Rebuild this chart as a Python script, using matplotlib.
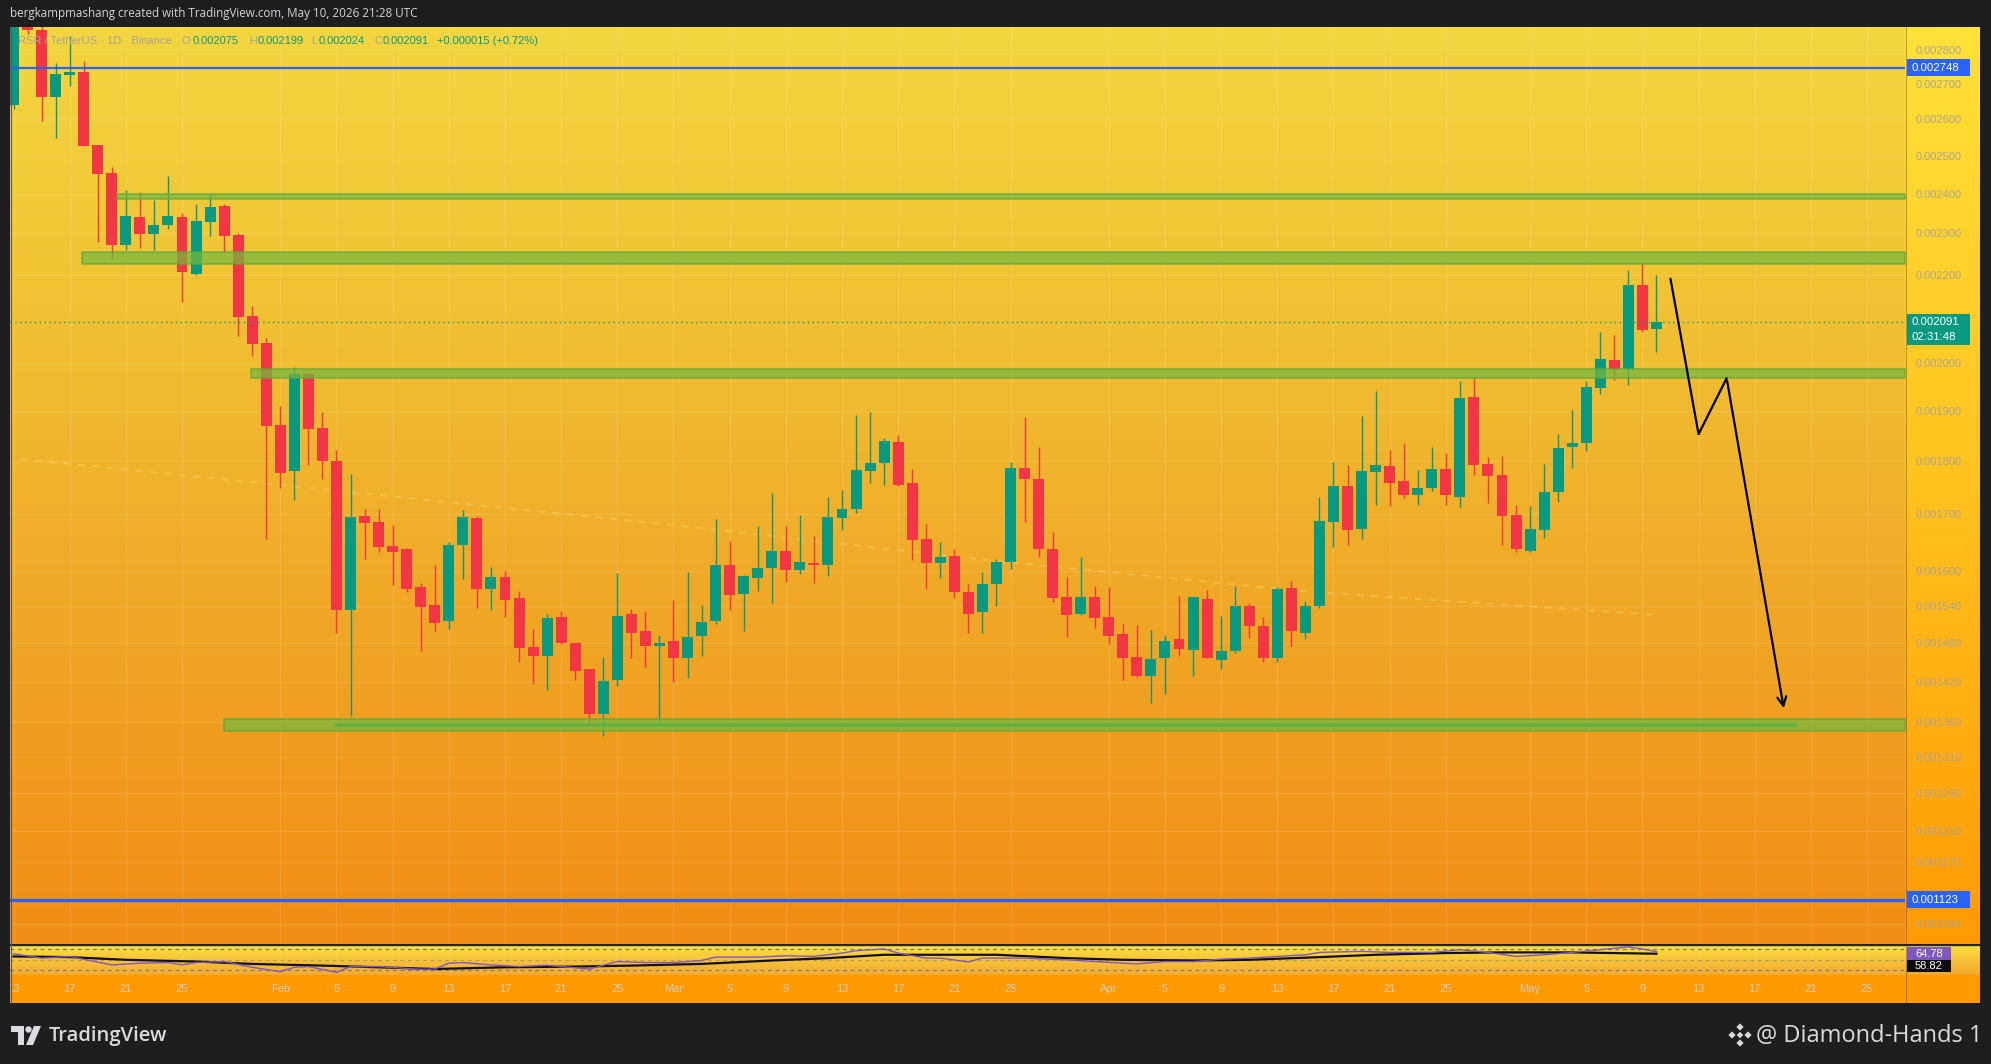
import numpy as np
import pandas as pd
import matplotlib
matplotlib.use("Agg")
import matplotlib.pyplot as plt
from matplotlib.patches import Rectangle, Polygon
from matplotlib.colors import to_rgb
from matplotlib.ticker import NullLocator, NullFormatter

W, H = 1991, 1064

# ---- daily candles RSR/USDT, 13 Jan .. 10 May 2026 (prices in 1e-6 USDT) ----
START = pd.Timestamp("2026-01-13")
opens = [2640, 2920, 2862, 2663, 2728, 2735, 2529, 2454, 2271, 2340, 2299, 2321, 2340, 2202, 2328, 2369, 2296, 2105, 2044, 1871,
         1781, 1977, 1866, 1801, 1534, 1697, 1686, 1643, 1638, 1572, 1542, 1515, 1644, 1693, 1568, 1589, 1554, 1474, 1460, 1523,
         1480, 1440, 1372, 1423, 1527, 1500, 1476, 1484, 1457, 1492, 1516, 1610, 1560, 1588, 1605, 1634, 1602, 1613, 1609, 1694,
         1709, 1782, 1797, 1838, 1759, 1655, 1614, 1626, 1563, 1530, 1578, 1615, 1787, 1765, 1638, 1555, 1528, 1555, 1522, 1495,
         1458, 1429, 1457, 1486, 1470, 1552, 1454, 1468, 1540, 1508, 1457, 1571, 1497, 1540, 1686, 1753, 1674, 1780, 1791, 1762,
         1736, 1748, 1785, 1732, 1929, 1795, 1774, 1698, 1635, 1672, 1742, 1827, 1835, 1948, 2007, 1987, 2175, 2075]
highs = [2960, 2950, 2900, 2762, 2843, 2768, 2530, 2470, 2409, 2403, 2384, 2446, 2350, 2373, 2399, 2373, 2300, 2127, 2055, 1909,
         1992, 1980, 1898, 1822, 1776, 1710, 1710, 1681, 1640, 1579, 1610, 1650, 1708, 1697, 1606, 1599, 1566, 1503, 1527, 1532,
         1481, 1440, 1458, 1596, 1535, 1532, 1493, 1550, 1597, 1542, 1691, 1652, 1593, 1679, 1739, 1679, 1699, 1661, 1732, 1745,
         1892, 1898, 1845, 1851, 1785, 1682, 1650, 1638, 1578, 1597, 1620, 1798, 1888, 1827, 1668, 1590, 1624, 1574, 1572, 1511,
         1510, 1501, 1493, 1557, 1556, 1567, 1524, 1574, 1545, 1522, 1572, 1583, 1548, 1732, 1799, 1793, 1890, 1941, 1822, 1836,
         1783, 1827, 1816, 1962, 1968, 1808, 1810, 1718, 1715, 1795, 1853, 1902, 1962, 2068, 2062, 2211, 2228, 2199]
lows = [2629, 2850, 2595, 2549, 2694, 2525, 2278, 2238, 2260, 2263, 2260, 2311, 2136, 2200, 2293, 2254, 2059, 2016, 1656, 1748,
        1727, 1793, 1765, 1497, 1368, 1621, 1633, 1576, 1563, 1468, 1499, 1503, 1586, 1537, 1534, 1523, 1451, 1416, 1408, 1479,
        1422, 1356, 1340, 1413, 1456, 1443, 1360, 1420, 1425, 1459, 1511, 1534, 1500, 1566, 1546, 1581, 1595, 1579, 1591, 1671,
        1702, 1759, 1755, 1753, 1619, 1569, 1588, 1553, 1497, 1497, 1541, 1603, 1686, 1623, 1547, 1490, 1526, 1505, 1478, 1423,
        1427, 1388, 1402, 1459, 1428, 1456, 1439, 1464, 1489, 1451, 1451, 1475, 1486, 1537, 1642, 1644, 1656, 1718, 1716, 1730,
        1718, 1744, 1718, 1714, 1774, 1721, 1644, 1633, 1633, 1658, 1722, 1787, 1820, 1934, 1965, 1954, 2069, 2024]
closes = [2920, 2862, 2663, 2730, 2735, 2527, 2452, 2271, 2343, 2299, 2320, 2343, 2205, 2330, 2366, 2293, 2102, 2042, 1869, 1778,
          1977, 1864, 1801, 1534, 1695, 1685, 1642, 1633, 1569, 1539, 1513, 1645, 1695, 1568, 1589, 1551, 1473, 1460, 1521, 1480,
          1437, 1371, 1421, 1524, 1497, 1476, 1480, 1457, 1490, 1514, 1610, 1559, 1591, 1605, 1634, 1602, 1615, 1609, 1695, 1710,
          1783, 1796, 1840, 1755, 1654, 1614, 1624, 1563, 1528, 1578, 1615, 1787, 1765, 1637, 1554, 1526, 1555, 1521, 1492, 1457,
          1429, 1455, 1483, 1471, 1555, 1457, 1468, 1540, 1508, 1457, 1569, 1499, 1540, 1688, 1753, 1672, 1781, 1793, 1759, 1736,
          1749, 1785, 1736, 1927, 1793, 1772, 1697, 1637, 1674, 1741, 1826, 1836, 1949, 2009, 1988, 2175, 2073, 2091]

# drawn levels (price, 1e-6 USDT)
blue_levels = [2748, 1123]
zones = [  # (start candle, low, high)
    (7.4, 2387, 2398),
    (4.9, 2225, 2254),
    (16.9, 1969, 1988),
    (15.0, 1347, 1364),
]
inner_zone = (22.9, 127.0, 1352, 1358)
last_price = 2091

# faint moving average
ema_x = [0.5, 23.3, 46.8, 69.5, 92.3, 117]
ema_p = [1804, 1743, 1681, 1618, 1564, 1526]

# hand-drawn projection arrow
arrow_x = [118.0, 120.0, 122.0, 126.1]
arrow_p = [2190, 1853, 1968, 1376]

# RSI pane
rsi_x = [0, 2, 4, 7, 9, 11, 12, 13, 15, 17, 19, 20, 21, 23, 24, 26, 29, 30, 31, 32, 34, 36, 38, 41, 43, 45, 47, 49, 50, 53,
         55, 57, 59, 60, 62, 63, 65, 66, 68, 69, 72, 75, 77, 80, 82, 84, 86, 88, 90, 92, 93, 96, 98, 101, 103, 105, 107, 109,
         111, 113, 115, 116, 117]
rsi_v = [61.0, 52.6, 55.8, 39.7, 42.9, 44.2, 39.7, 44.2, 46.1, 35.2, 26.8, 35.2, 36.5, 25.5, 36.5, 36.5, 31.3, 31.9, 42.9,
         44.2, 39.7, 36.5, 39.0, 31.9, 46.1, 44.2, 44.2, 48.1, 54.5, 54.5, 57.1, 55.8, 62.3, 66.8, 70.0, 62.3, 52.6, 52.6,
         45.5, 52.6, 52.6, 49.4, 46.1, 41.6, 46.1, 46.1, 50.6, 52.6, 55.8, 59.0, 63.5, 65.5, 63.5, 63.5, 68.7, 63.5, 55.8,
         59.0, 63.5, 68.7, 73.9, 70.0, 64.78]
ma_x = [0, 4, 8, 13, 17, 22, 26, 30, 35, 40, 44, 49, 54, 58, 62, 67, 70, 75, 79, 84, 88, 93, 97, 102, 106, 111, 117]
ma_v = [55.8, 54.5, 49.4, 46.1, 41.6, 38.4, 35.2, 31.9, 35.2, 36.5, 38.4, 41.6, 48.1, 52.6, 59.0, 59.0, 59.0, 52.6, 49.4,
        48.1, 49.4, 54.5, 59.0, 62.3, 63.5, 63.5, 61.0]
ma_last = 58.82

price_ticks = [2800, 2700, 2600, 2500, 2400, 2300, 2200, 2000, 1900, 1800, 1700, 1600, 1540, 1480, 1420, 1360,
               1310, 1260, 1210, 1170, 1094]
tick_days = ["2026-01-13", "2026-01-17", "2026-01-21", "2026-01-25", "2026-02-01", "2026-02-05", "2026-02-09",
             "2026-02-13", "2026-02-17", "2026-02-21", "2026-02-25", "2026-03-01", "2026-03-05", "2026-03-09",
             "2026-03-13", "2026-03-17", "2026-03-21", "2026-03-25", "2026-04-01", "2026-04-05", "2026-04-09",
             "2026-04-13", "2026-04-17", "2026-04-21", "2026-04-25", "2026-05-01", "2026-05-05", "2026-05-09",
             "2026-05-13", "2026-05-17", "2026-05-21", "2026-05-25"]

SC = 1e-6
o = np.array(opens) * SC
h = np.array(highs) * SC
l = np.array(lows) * SC
c = np.array(closes) * SC
idx = np.arange(len(o))

GREEN = "#089981"
RED = "#f23645"
BLUE = "#2962ff"
AXTXT = "#aaa596"
TIMETXT = "#d2cbbb"
DARK = "#1e1e1e"
XLIM = (-0.25, 134.7)


def box(x0, y0, x1, y1):
    return [x0 / W, 1 - y1 / H, (x1 - x0) / W, (y1 - y0) / H]


def grad(stops, n=300):
    t = np.linspace(0, 1, n)
    fr = [s[0] for s in stops]
    cols = np.array([to_rgb(s[1]) for s in stops])
    img = np.stack([np.interp(t, fr, cols[:, k]) for k in range(3)], axis=1)
    return img[:, None, :]


fig = plt.figure(figsize=(W / 100, H / 100), dpi=100, facecolor=DARK)

# background layer in pixel coords
bg = fig.add_axes([0, 0, 1, 1], zorder=0)
bg.set_xlim(0, W)
bg.set_ylim(H, 0)
bg.axis("off")
bg.imshow(grad([(0, "#f3d640"), (0.3, "#f1c233"), (0.6, "#f0aa28"), (1, "#f28d14")]),
          extent=(10, 1905, 944, 27), aspect="auto")
bg.imshow(grad([(0, "#ffe238"), (0.5, "#ffc21e"), (1, "#ff9a04")]),
          extent=(1905, 1980, 944, 27), aspect="auto")
bg.imshow(grad([(0, "#fde23c"), (0.5, "#f7c23a"), (1, "#f4a92e")]),
          extent=(10, 1980, 975, 945), aspect="auto")
bg.add_patch(Rectangle((10, 975), 1970, 28, color="#ff9a00", lw=0))

# main price pane
ax = fig.add_axes(box(10, 27, 1905, 944), zorder=2)
ax.set_facecolor("none")
ax.set_yscale("log")
for s in ax.spines.values():
    s.set_visible(False)

tick_idx = [(pd.Timestamp(d) - START).days for d in tick_days]
ax.set_xticks(tick_idx)
ax.tick_params(axis="x", length=0, labelbottom=False)
ax.yaxis.tick_right()
ax.yaxis.set_minor_locator(NullLocator())
ax.yaxis.set_minor_formatter(NullFormatter())
ax.set_yticks([p * SC for p in price_ticks])
ax.set_yticklabels([f"{p * SC:.6f}" for p in price_ticks])
ax.tick_params(axis="y", length=0, pad=8, labelsize=8, labelcolor=AXTXT)
for t in ax.get_yticklabels():
    t.set_fontfamily("Liberation Sans")
ax.grid(True, color="white", alpha=0.13, lw=0.8)

# candles
col = np.where(c >= o, GREEN, RED)
ax.vlines(idx, l, h, colors=col, lw=1.0, zorder=3)
body_lo = np.minimum(o, c)
body_h = np.maximum(np.abs(c - o), body_lo * 0.0012)
ax.bar(idx, body_h, bottom=body_lo, width=0.78, color=col, lw=0, zorder=4)

# faint MA
ax.plot(ema_x, np.array(ema_p) * SC, color="#fbe08a", alpha=0.35, lw=1.3, ls=(0, (4, 4)), zorder=2)

# support / resistance zones
for x0, lo, hi in zones:
    ax.fill_between([x0, XLIM[1]], lo * SC, hi * SC, facecolor="#74b83e", alpha=0.72,
                    edgecolor="#5ea83a", lw=1.2, zorder=5)
ax.fill_between(inner_zone[:2], inner_zone[2] * SC, inner_zone[3] * SC, facecolor="#5cb347",
                alpha=0.8, lw=0, zorder=5)

ax.axhline(blue_levels[0] * SC, color=BLUE, lw=1.6, zorder=6)
ax.axhline(blue_levels[1] * SC, color=BLUE, lw=2.4, zorder=6)
ax.axhline(last_price * SC, color=GREEN, lw=1.0, ls=(0, (1, 2.5)), zorder=6)

# projection arrow
ap = np.array(arrow_p) * SC
ax.plot(arrow_x[:-1], ap[:-1], color="black", lw=1.6, zorder=7, solid_capstyle="round")
ax.annotate("", xy=(arrow_x[-1], ap[-1]), xytext=(arrow_x[-2], ap[-2]),
            arrowprops=dict(arrowstyle="->", color="black", lw=1.6, mutation_scale=16), zorder=7)

ax.set_xlim(*XLIM)
ax.set_ylim(0.001071, 0.002871)

# RSI pane
ar = fig.add_axes(box(10, 945, 1905, 975), zorder=2)
ar.set_facecolor("none")
for s in ar.spines.values():
    s.set_visible(False)
ar.set_xticks(tick_idx)
ar.set_yticks([])
ar.tick_params(axis="x", length=0, labelbottom=False)
ar.grid(True, axis="x", color="white", alpha=0.13, lw=0.8)
for lvl, a in [(70, 1), (50, 0.5), (30, 1)]:
    ar.axhline(lvl, color="#787b86", lw=0.9, ls=(0, (3, 3)), alpha=a)
ar.plot(ma_x, ma_v, color="#111111", lw=1.6)
ar.plot(rsi_x, rsi_v, color="#7e57c2", lw=1.0)
ar.set_xlim(*XLIM)
ar.set_ylim(20.5, 77.6)

# time axis
at = fig.add_axes(box(10, 975, 1905, 1003), zorder=2)
at.set_facecolor("none")
at.axis("off")
at.set_xlim(*XLIM)
at.set_ylim(0, 1)
for d, x in zip(tick_days, tick_idx):
    ts = pd.Timestamp(d)
    lab = ts.strftime("%b") if ts.day == 1 else str(ts.day)
    at.text(x, 0.5, lab, ha="center", va="center", fontsize=8, color=TIMETXT,
            family="Liberation Sans", clip_on=True)

# overlay layer: labels on price scale, header, footer
top = fig.add_axes([0, 0, 1, 1], zorder=5)
top.set_xlim(0, W)
top.set_ylim(H, 0)
top.axis("off")
top.patch.set_visible(False)


def ypix(axis, v):
    return H - axis.transData.transform((0, v))[1]


def price_box(y, hgt, face, lines):
    top.add_patch(Rectangle((1907, y - hgt / 2), 63, hgt, color=face, lw=0))
    n = len(lines)
    for k, s in enumerate(lines):
        top.text(1911, y + (k - (n - 1) / 2) * 14.5, s, ha="left", va="center", fontsize=8.2,
                 color="white", family="Liberation Sans")


price_box(ypix(ax, blue_levels[0] * SC), 17, BLUE, [f"{blue_levels[0] * SC:.6f}"])
price_box(ypix(ax, blue_levels[1] * SC), 17, BLUE, [f"{blue_levels[1] * SC:.6f}"])
price_box(ypix(ax, last_price * SC) + 7.5, 31, GREEN, [f"{last_price * SC:.6f}", "02:31:48"])

yr = ypix(ar, rsi_v[-1]) + 2
top.add_patch(Rectangle((1907, yr - 6.5), 44, 13, color="#7e57c2", lw=0))
top.text(1929, yr, f"{rsi_v[-1]:.2f}", ha="center", va="center", fontsize=8, color="white",
         family="Liberation Sans")
top.add_patch(Rectangle((1907, yr + 6.5), 44, 12, color="#0c0c0c", lw=0))
top.text(1929, yr + 12.5, f"{ma_last:.2f}", ha="center", va="center", fontsize=8, color="white",
         family="Liberation Sans")

# pane separators / frame
top.plot([10, 1980], [944.5, 944.5], color="#2a2a2a", lw=1.0)
top.plot([1905.5, 1905.5], [27, 1003], color="#3a3a3a", lw=0.6, alpha=0.5)
top.plot([10.5, 10.5], [27, 1003], color="#5a5a5a", lw=0.8)

# header and legend
top.text(10, 13, "bergkampmashang created with TradingView.com, May 10, 2026 21:28 UTC",
         ha="left", va="center", fontsize=8.4, color="#d1d4dc", family="Open Sans")
legend = [(18, "RSR / TetherUS · 1D · Binance", AXTXT), (181, "O", AXTXT), (193, "0.002075", GREEN),
          (249, "H", AXTXT), (258, "0.002199", GREEN), (311, "L", AXTXT), (319, "0.002024", GREEN),
          (374, "C", AXTXT), (383, "0.002091", GREEN), (437, "+0.000015 (+0.72%)", GREEN)]
for x, s, cc in legend:
    top.text(x, 41, s, ha="left", va="center", fontsize=8, color=cc, family="Liberation Sans")

# footer: TradingView mark and signature
LOGO = "#d9dbe0"
top.add_patch(Polygon([(11, 1026), (24, 1026), (24, 1045), (18, 1045), (18, 1032), (11, 1032)],
                      closed=True, color=LOGO, lw=0))
top.add_patch(plt.Circle((28.5, 1029.5), 3.2, color=LOGO, lw=0))
top.add_patch(Polygon([(34, 1026), (41, 1026), (33, 1045), (26, 1045)], closed=True, color=LOGO, lw=0))
top.text(49, 1036, "TradingView", ha="left", va="center", fontsize=14.5, color=LOGO,
         family="Open Sans", weight="semibold")

cx, cy, r = 1740, 1035, 3.6
for dx, dy in [(0, 0), (0, -8), (0, 8), (-8, 0), (8, 0)]:
    rr = r if (dx or dy) else r * 0.9
    top.add_patch(Polygon([(cx + dx, cy + dy - rr), (cx + dx + rr, cy + dy), (cx + dx, cy + dy + rr),
                           (cx + dx - rr, cy + dy)], closed=True, color=LOGO, lw=0))
top.text(1756, 1036, "@ Diamond-Hands 1", ha="left", va="center", fontsize=17, color=LOGO,
         family="Open Sans")

fig.savefig("out.png", dpi=100, facecolor=DARK)
